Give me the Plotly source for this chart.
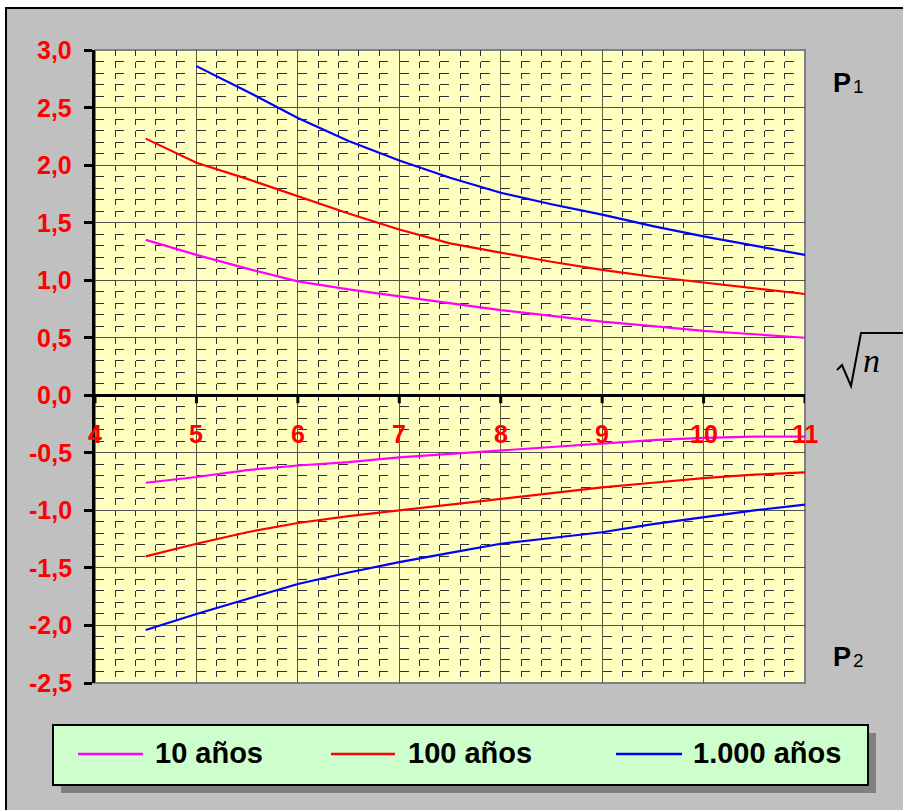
import plotly.graph_objects as go

# Abscissa (sqrt n) and curve values
x_full = [4.5, 5, 5.5, 6, 6.5, 7, 7.5, 8, 8.5, 9, 9.5, 10, 10.5, 11]
x_1000_p1 = [5, 5.5, 6, 6.5, 7, 7.5, 8, 8.5, 9, 9.5, 10, 10.5, 11]

p1_10 = [1.35, 1.22, 1.10, 0.99, 0.92, 0.86, 0.80, 0.74, 0.69, 0.64, 0.60, 0.56, 0.53, 0.50]
p1_100 = [2.23, 2.02, 1.88, 1.73, 1.58, 1.44, 1.32, 1.24, 1.16, 1.09, 1.03, 0.98, 0.93, 0.88]
p1_1000 = [2.86, 2.64, 2.41, 2.21, 2.04, 1.89, 1.76, 1.66, 1.57, 1.47, 1.38, 1.30, 1.22]

p2_10 = [-0.76, -0.71, -0.65, -0.61, -0.58, -0.54, -0.51, -0.48, -0.45, -0.42, -0.39, -0.37, -0.36, -0.36]
p2_100 = [-1.40, -1.29, -1.19, -1.11, -1.05, -1.00, -0.95, -0.90, -0.85, -0.80, -0.76, -0.72, -0.69, -0.67]
p2_1000 = [-2.04, -1.90, -1.77, -1.64, -1.54, -1.45, -1.37, -1.29, -1.24, -1.19, -1.12, -1.06, -1.00, -0.95]

x_ticks = [4, 5, 6, 7, 8, 9, 10, 11]
y_ticks = [-2.5, -2.0, -1.5, -1.0, -0.5, 0.0, 0.5, 1.0, 1.5, 2.0, 2.5, 3.0]
y_ticktext = ["-2,5", "-2,0", "-1,5", "-1,0", "-0,5", "0,0", "0,5", "1,0", "1,5", "2,0", "2,5", "3,0"]

series_names = ["10 años", "100 años", "1.000 años"]
series_colors = ["#FF00FF", "#FF0000", "#0000FF"]

W, H = 903, 810
ML, MR, MT, MB = 95, 98, 50, 127
PW, PH = W - ML - MR, H - MT - MB
FONT = "Arial, Liberation Sans"


def px(xp):
    return (xp - ML) / PW


def py(yp):
    return (H - MB - yp) / PH


fig = go.Figure()

curves = [
    (x_full, p1_10, 0), (x_full, p1_100, 1), (x_1000_p1, p1_1000, 2),
    (x_full, p2_10, 0), (x_full, p2_100, 1), (x_full, p2_1000, 2),
]
for xs, ys, k in curves:
    fig.add_trace(go.Scatter(
        x=xs, y=ys, mode="lines", name=series_names[k], showlegend=False,
        line=dict(color=series_colors[k], width=2.2),
    ))

shapes = []
# Grey frame of the whole chart
shapes.append(dict(type="rect", xref="paper", yref="paper", layer="below",
                   x0=px(6), x1=px(912), y0=py(818), y1=py(8),
                   fillcolor="#C0C0C0", line=dict(color="black", width=2)))
# Plot area
shapes.append(dict(type="rect", xref="paper", yref="paper", layer="below",
                   x0=0, x1=1, y0=0, y1=1,
                   fillcolor="#FFFFC0", line=dict(color="#808080", width=2)))
# Tick marks on the horizontal axis at y = 0
for xv in x_ticks:
    shapes.append(dict(type="line", xref="x", yref="y", x0=xv, x1=xv,
                       y0=0, y1=-8 / 115, line=dict(color="black", width=3)))

# Radical sign next to the axis title
rad = [(837, 370), (842, 365), (851, 386), (861, 333), (903, 333)]
path = "M " + " L ".join(f"{px(a):.4f},{py(b):.4f}" for a, b in rad)
shapes.append(dict(type="path", xref="paper", yref="paper", path=path,
                   line=dict(color="black", width=2)))

# Legend box with shadow
shapes.append(dict(type="rect", xref="paper", yref="paper",
                   x0=px(61), x1=px(876), y0=py(793), y1=py(733),
                   fillcolor="#808080", line=dict(width=0)))
shapes.append(dict(type="rect", xref="paper", yref="paper",
                   x0=px(53), x1=px(868), y0=py(785), y1=py(725),
                   fillcolor="#CCFFCC", line=dict(color="black", width=2)))

legend_line_x = [(78, 143), (331, 395), (616, 682)]
legend_text_x = [153, 406, 691]
annotations = []
for k in range(3):
    a, b = legend_line_x[k]
    shapes.append(dict(type="line", xref="paper", yref="paper",
                       x0=px(a), x1=px(b), y0=py(754), y1=py(754),
                       line=dict(color=series_colors[k], width=2.5)))
    annotations.append(dict(xref="paper", yref="paper", x=px(legend_text_x[k]), y=py(753),
                            xanchor="left", yanchor="middle", showarrow=False,
                            text=f"<b>{series_names[k]}</b>",
                            font=dict(family=FONT, size=29, color="black")))

# X tick labels sit just below the zero line
for xv in x_ticks:
    annotations.append(dict(xref="x", yref="y", x=xv, y=-0.34, showarrow=False,
                            xanchor="center", yanchor="middle", text=f"<b>{xv}</b>",
                            font=dict(family=FONT, size=25, color="#FF0000")))

# Y tick labels, right-aligned left of the vertical axis
for yv, txt in zip(y_ticks, y_ticktext):
    annotations.append(dict(xref="paper", yref="y", x=px(74), y=yv, showarrow=False,
                            xanchor="right", yanchor="middle", text=f"<b>{txt}</b>",
                            font=dict(family=FONT, size=25, color="#FF0000")))

# P1 / P2 labels (letter plus smaller index)
for label, idx, yc in [("P", "1", 83), ("P", "2", 657)]:
    annotations.append(dict(xref="paper", yref="paper", x=px(853), y=py(yc), showarrow=False,
                            xanchor="right", yanchor="middle", text=f"<b>{label}</b>",
                            font=dict(family=FONT, size=27, color="black")))
    annotations.append(dict(xref="paper", yref="paper", x=px(851), y=py(yc + 3), showarrow=False,
                            xanchor="left", yanchor="middle", text=idx,
                            font=dict(family=FONT, size=19, color="black")))

annotations.append(dict(xref="paper", yref="paper", x=px(882), y=py(360), showarrow=False,
                        text="<i>n</i>",
                        font=dict(family="Liberation Serif, Times New Roman", size=34, color="black")))

fig.update_layout(
    width=W, height=H,
    margin=dict(l=ML, r=MR, t=MT, b=MB, pad=0),
    paper_bgcolor="white",
    plot_bgcolor="#FFFFC0",
    showlegend=False,
    shapes=shapes,
    annotations=annotations,
)

fig.update_xaxes(
    range=[4, 11], showticklabels=False, ticks="",
    dtick=1, tick0=4,
    showgrid=True, gridcolor="#5a5a40", gridwidth=1,
    minor=dict(dtick=0.2, tick0=4, showgrid=True, gridcolor="#303030",
               gridwidth=1, griddash="6px,5.5px"),
    zeroline=False, showline=False,
)
fig.update_yaxes(
    range=[-2.5, 3.0], tickvals=y_ticks, showticklabels=False,
    ticks="outside", ticklen=8, tickwidth=3, tickcolor="black",
    showline=True, linecolor="black", linewidth=3,
    showgrid=True, gridcolor="#505050", gridwidth=1,
    minor=dict(dtick=0.1, tick0=0, showgrid=True, gridcolor="#303030",
               gridwidth=1, griddash="9px,11.3px"),
    zeroline=True, zerolinecolor="black", zerolinewidth=3,
)

fig.write_html("out.html")
